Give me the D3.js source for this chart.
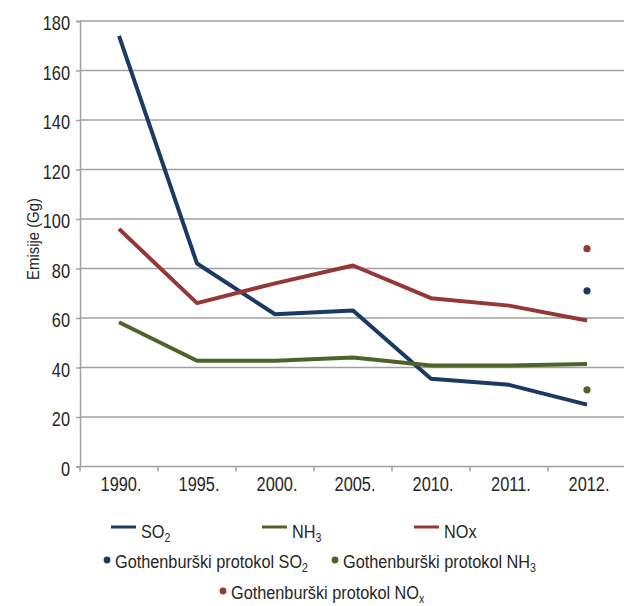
<!DOCTYPE html>
<html>
<head>
<meta charset="utf-8">
<script src="https://cdn.jsdelivr.net/npm/d3@7"></script>
<style>
    body { margin: 0; background: #fff; }
    svg text { font-family: "Liberation Sans", Arial, sans-serif; fill: #262626; }
</style>
</head>
<body>
<div id="chart"></div>
<script>
const years = ["1990.", "1995.", "2000.", "2005.", "2010.", "2011.", "2012."];
const so2 = [174, 82, 61.5, 63, 35.5, 33, 25];
const nh3 = [58.3, 42.7, 42.7, 44, 40.8, 40.8, 41.4];
const nox = [96, 66, 74, 81.2, 68, 65, 59];
const gothYear = "2012.";
const gothSo2 = 71;
const gothNh3 = 31;
const gothNox = 88;
const yTicks = [0, 20, 40, 60, 80, 100, 120, 140, 160, 180];

const width = 624;
const height = 606;
const colors = { so2: "#1b3a63", nh3: "#4f6228", nox: "#953735" };
const gridColor = "#a0a0a0";
const squeeze = 0.84;   // fake a condensed face

const svg = d3.select("#chart").append("svg")
    .attr("width", width)
    .attr("height", height);

const x = d3.scaleBand().domain(years).range([80, 626]).padding(0);
const y = d3.scaleLinear().domain([0, 180]).range([466.5, 21]);
const cx = d => x(d) + x.bandwidth() / 2;

// narrow text: position with translate, squeeze horizontally
function narrow(g, tx, ty, size, sx, anchor) {
    return g.append("text")
        .attr("transform", `translate(${tx},${ty}) scale(${sx},1)`)
        .attr("font-size", size)
        .attr("text-anchor", anchor || "start");
}

// grid
svg.append("g").selectAll("line").data(yTicks.filter(d => d > 0)).enter().append("line")
    .attr("x1", 80).attr("x2", width)
    .attr("y1", d => y(d)).attr("y2", d => y(d))
    .attr("stroke", gridColor).attr("stroke-width", 1.5);

// y axis
const yAxis = svg.append("g")
    .attr("transform", "translate(80,0)")
    .call(d3.axisLeft(y).tickValues(yTicks).tickSize(4).tickPadding(6));
yAxis.select(".domain").attr("stroke", gridColor).attr("stroke-width", 1.5);
yAxis.selectAll(".tick line").attr("stroke", gridColor).attr("stroke-width", 1.5);
yAxis.selectAll("text")
    .attr("font-size", 19.5)
    .attr("font-family", null)
    .attr("fill", "#262626")
    .attr("x", -10 / squeeze)
    .attr("dy", "0.46em")
    .attr("transform", `scale(${squeeze},1)`);

// x axis
svg.append("line")
    .attr("x1", 80).attr("x2", width)
    .attr("y1", y(0)).attr("y2", y(0))
    .attr("stroke", gridColor).attr("stroke-width", 1.5);
svg.append("g").selectAll("line").data(years).enter().append("line")
    .attr("x1", d => x(d)).attr("x2", d => x(d))
    .attr("y1", y(0)).attr("y2", y(0) + 5)
    .attr("stroke", gridColor).attr("stroke-width", 1.5);
years.forEach(d => {
    narrow(svg, cx(d) + 2, 491, 19.5, squeeze, "middle").text(d);
});

// axis title
svg.append("text")
    .attr("transform", "translate(38.5,239) rotate(-90) scale(0.93,1)")
    .attr("text-anchor", "middle")
    .attr("font-size", 16)
    .text("Emisije (Gg)");

// lines
const line = d3.line().x((d, i) => cx(years[i])).y(d => y(d));
[[so2, colors.so2], [nh3, colors.nh3], [nox, colors.nox]].forEach(([vals, c]) => {
    svg.append("path")
        .datum(vals)
        .attr("d", line)
        .attr("fill", "none")
        .attr("stroke", c)
        .attr("stroke-width", 4)
        .attr("stroke-linejoin", "round");
});

// Gothenburg protocol targets
[[gothSo2, colors.so2], [gothNh3, colors.nh3], [gothNox, colors.nox]].forEach(([v, c]) => {
    svg.append("circle")
        .attr("cx", cx(gothYear))
        .attr("cy", y(v))
        .attr("r", 3.6)
        .attr("fill", c);
});

// legend
function label(g, tx, ty, main, sub) {
    const t = narrow(g, tx, ty, 18.5, 0.88);
    t.append("tspan").text(main);
    if (sub) {
        t.append("tspan")
            .attr("font-size", 12)
            .attr("dy", 4)
            .text(sub);
    }
}

const legend = svg.append("g");
const lineItems = [
    { x: 111, color: colors.so2, main: "SO", sub: "2" },
    { x: 262, color: colors.nh3, main: "NH", sub: "3" },
    { x: 414, color: colors.nox, main: "NOx", sub: "" }
];
lineItems.forEach(d => {
    legend.append("line")
        .attr("x1", d.x).attr("x2", d.x + 25)
        .attr("y1", 527).attr("y2", 527)
        .attr("stroke", d.color).attr("stroke-width", 3);
    label(legend, d.x + 30, 538, d.main, d.sub);
});

const dotItems = [
    { x: 107, y: 560, color: colors.so2, main: "Gothenburški protokol SO", sub: "2" },
    { x: 335, y: 560, color: colors.nh3, main: "Gothenburški protokol NH", sub: "3" },
    { x: 223, y: 591, color: colors.nox, main: "Gothenburški protokol NO", sub: "x" }
];
dotItems.forEach(d => {
    legend.append("circle")
        .attr("cx", d.x).attr("cy", d.y)
        .attr("r", 3.4)
        .attr("fill", d.color);
    label(legend, d.x + 8, d.y + 8, d.main, d.sub);
});
</script>
</body>
</html>
